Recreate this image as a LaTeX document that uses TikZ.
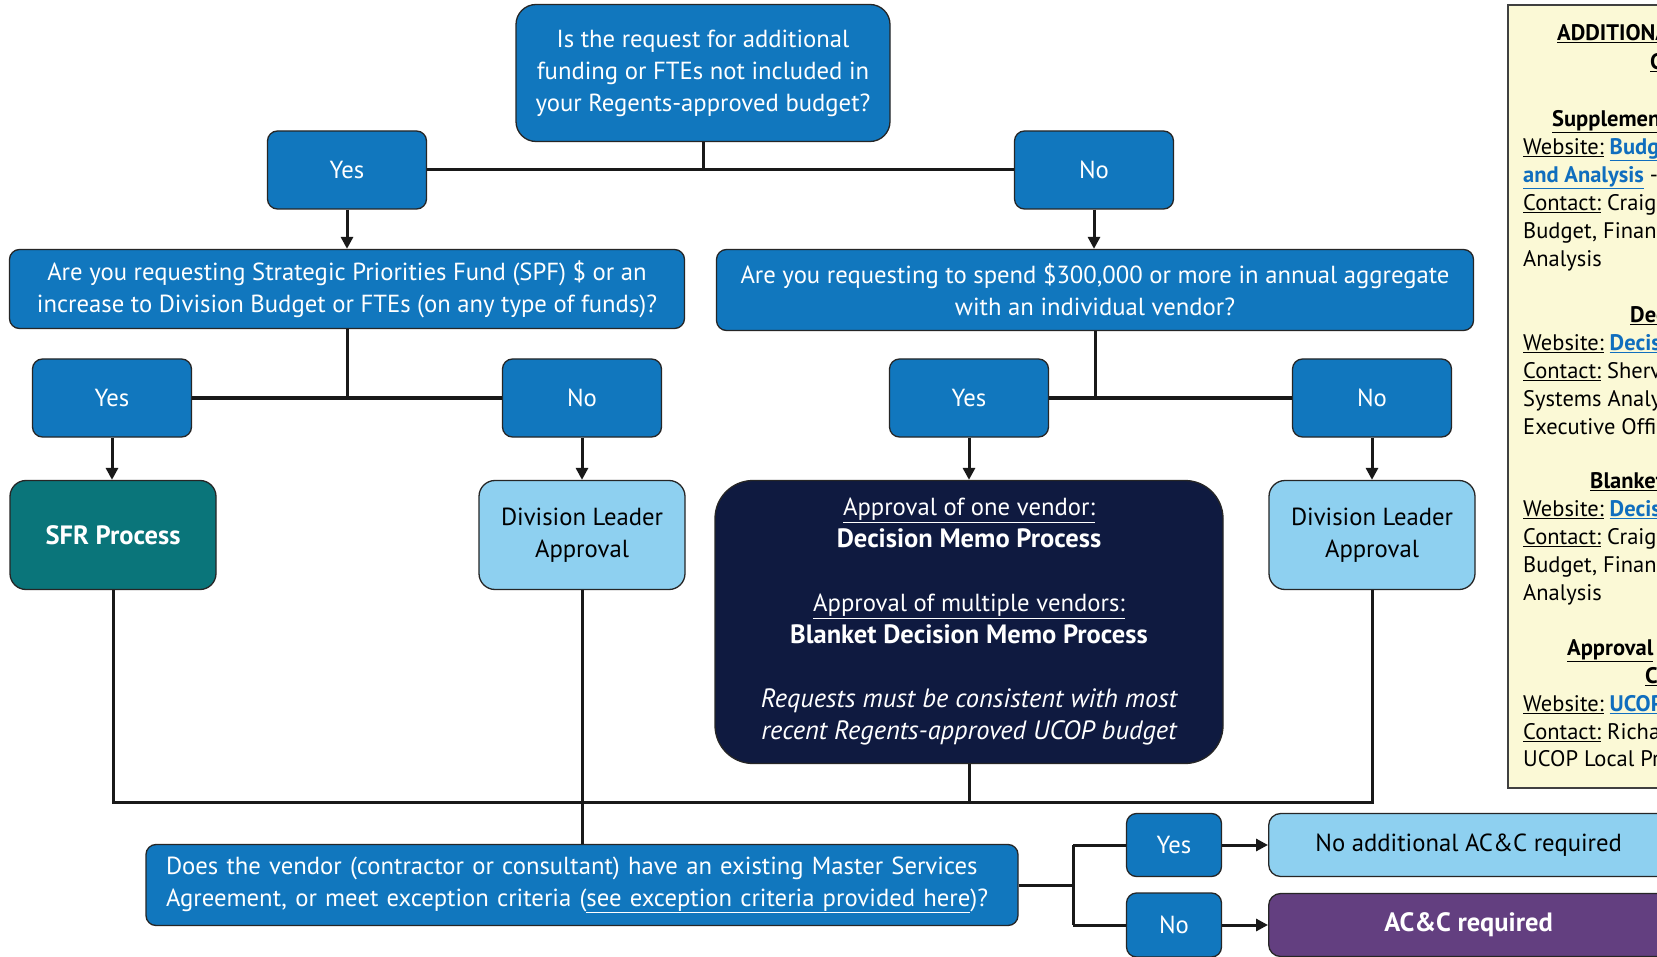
\documentclass[tikz,border=0pt]{standalone}
\usepackage{fontspec}
\setmainfont{PT Sans}
\usetikzlibrary{arrows.meta}
\definecolor{ucblue}{RGB}{17,119,190}
\definecolor{ucsky}{RGB}{142,208,240}
\definecolor{ucteal}{RGB}{10,117,122}
\definecolor{ucnavy}{RGB}{15,26,64}
\definecolor{ucpurple}{RGB}{99,63,128}
\definecolor{notepaper}{RGB}{251,249,214}
\definecolor{weblink}{RGB}{16,110,190}
\newcommand\weblink[1]{\textcolor{weblink}{\textbf{\underline{#1}}}}
\newcommand\bigbf[1]{{\fontsize{26.5}{32}\selectfont\bfseries #1}}
\newcommand\bigit[1]{{\fontsize{26.5}{32}\selectfont\itshape #1}}
\begin{document}
\begin{tikzpicture}[x=1pt,y=-1pt,
>={Triangle[length=12pt,width=12pt]},
box/.style={
% The shape:
rectangle,
draw=black!85,
line width=1.3pt,
rounded corners=10pt,
inner sep=0pt,
align=center,
font=\fontsize{24.7}{32}\selectfont
},
answer/.style={box,fill=ucblue,text=white,minimum width=159pt,minimum height=78pt},
question/.style={box,fill=ucblue,text=white},
leader/.style={box,fill=ucsky,minimum width=206pt,minimum height=109pt,rounded corners=16pt},
result/.style={box,minimum width=400pt,minimum height=63pt,rounded corners=12pt},
link/.style={line width=3pt,draw=black!90},
note/.style={anchor=west,inner sep=0pt,text height=16pt,text depth=5pt,font=\fontsize{22.5}{28}\selectfont}
]
\useasboundingbox (0,0) rectangle (1657,957);
\fill[white] (0,0) rectangle (1657,957);
% First question and its answers:
\node (top) [question,minimum width=374pt,minimum height=137pt,rounded corners=20pt] at (703,73) {Is the request for additional\\funding or FTEs not included in\\your Regents-approved budget?};
\node (yes1) [answer] at (347,170) {Yes};
\node (no1) [answer] at (1094,170) {No};
\node (spf) [question,minimum width=675pt,minimum height=79pt] at (347,289) {Are you requesting Strategic Priorities Fund (SPF) \$ or an\\increase to Division Budget or FTEs (on any type of funds)?};
\node (spend) [question,minimum width=757pt,minimum height=81pt] at (1095,290) {Are you requesting to spend \$300,000 or more in annual aggregate\\with an individual vendor?};
% Second row of answers:
\node (yes2a) [answer] at (112,398) {Yes};
\node (no2a) [answer] at (582,398) {No};
\node (yes2b) [answer] at (969,398) {Yes};
\node (no2b) [answer] at (1372,398) {No};
\node (sfr) [box,fill=ucteal,text=white,minimum width=206pt,minimum height=109pt,rounded corners=16pt] at (113,535) {\bigbf{SFR Process}};
\node (diva) [leader] at (582,535) {Division Leader\\Approval};
\node (memo) [box,fill=ucnavy,text=white,minimum width=508pt,minimum height=283pt,rounded corners=38pt] at (969,622) {\underline{Approval of one vendor:}\\\bigbf{Decision Memo Process}\\[32pt]\underline{Approval of multiple vendors:}\\\bigbf{Blanket Decision Memo Process}\\[32pt]\bigit{Requests must be consistent with most}\\\bigit{recent Regents-approved UCOP budget}};
\node (divb) [leader] at (1372,535) {Division Leader\\Approval};
% Vendor question:
\node (msa) [question,minimum width=872pt,minimum height=81pt,text width=832pt,align=left] at (582,885) {Does the vendor (contractor or consultant) have an existing Master Services\\Agreement, or meet exception criteria (\underline{see exception criteria provided here})?};
\node (yes3) [answer,minimum width=95pt,minimum height=63pt] at (1174,845) {Yes};
\node (no3) [answer,minimum width=95pt,minimum height=64pt] at (1174,925) {No};
\node (noacc) [result,fill=ucsky,anchor=west] at (1268,845) {No additional AC\&C required};
\node (acc) [result,fill=ucpurple,text=white,anchor=west] at (1268,925) {\bigbf{AC\&C required}};
\coordinate (bus) at (0,802);
\coordinate (fork) at (1073,885);
% Connectors:
\draw[link] (top.south) -- (top.south |- yes1.east);
\draw[link] (yes1.east) -- (no1.west);
\draw[link,->] (yes1.south) -- (spf.north -| yes1.south);
\draw[link,->] (no1.south) -- (spend.north -| no1.south);
\draw[link] (spf.south) -- (spf.south |- yes2a.east);
\draw[link] (yes2a.east) -- (no2a.west);
\draw[link] (spend.south) -- (spend.south |- yes2b.east);
\draw[link] (yes2b.east) -- (no2b.west);
\draw[link,->] (yes2a.south) -- (sfr.north -| yes2a.south);
\draw[link,->] (no2a.south) -- (diva.north);
\draw[link,->] (yes2b.south) -- (memo.north);
\draw[link,->] (no2b.south) -- (divb.north);
\draw[link] (sfr.south) -- (sfr.south |- bus) -- (divb.south |- bus) -- (divb.south);
\draw[link] (diva.south) -- (msa.north);
\draw[link] (memo.south) -- (memo.south |- bus);
\draw[link] (msa.east) -- (fork);
\draw[link] (fork |- yes3.west) -- (fork |- no3.west);
\draw[link] (fork |- yes3.west) -- (yes3.west);
\draw[link] (fork |- no3.west) -- (no3.west);
\draw[link,->] (yes3.east) -- (noacc.west);
\draw[link,->] (no3.east) -- (acc.west);
% Contacts panel (cut at the right edge):
\path[fill=notepaper,draw=black!75,line width=2.5pt] (1508,5) rectangle (1700,788);
\foreach \y/\x/\txt in {
35/1557/{\textbf{\underline{ADDITIONAL RESOURCES}}},
64/1650/{\textbf{\underline{CONTACTS}}},
121/1552/{\textbf{\underline{Supplemental}}},
149/1523/{\underline{Website:} \weblink{Budget}},
177/1523/{\weblink{and Analysis} -},
205/1523/{\underline{Contact:} Craig},
233/1523/{Budget, Financial},
261/1523/{Analysis},
317/1630/{\textbf{\underline{Decision}}},
345/1523/{\underline{Website:} \weblink{Decision}},
373/1523/{\underline{Contact:} Sherv},
401/1523/{Systems Analyst},
429/1523/{Executive Office},
483/1590/{\textbf{\underline{Blanket}}},
511/1523/{\underline{Website:} \weblink{Decision}},
539/1523/{\underline{Contact:} Craig},
567/1523/{Budget, Financial},
595/1523/{Analysis},
650/1567/{\textbf{\underline{Approval}}},
678/1645/{\textbf{\underline{C}}},
706/1523/{\underline{Website:} \weblink{UCOP}},
734/1523/{\underline{Contact:} Richa},
761/1523/{UCOP Local Procurement}}
\node[note] at (\x,\y) {\txt};
\end{tikzpicture}
\end{document}
